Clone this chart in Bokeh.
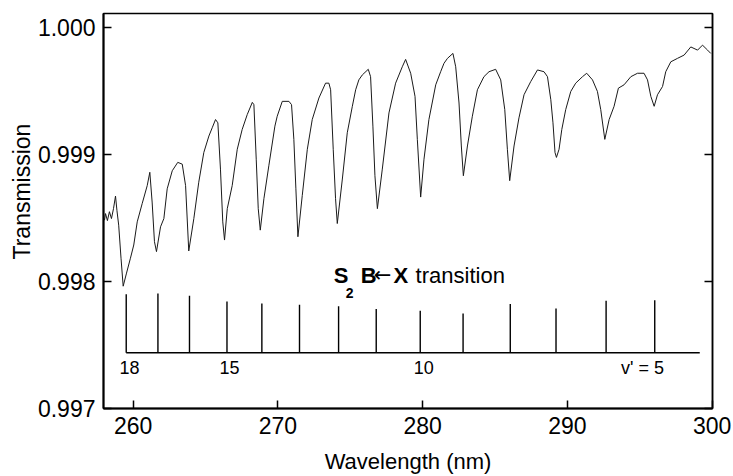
import math
from bokeh.plotting import figure
from bokeh.models import Range1d, LinearAxis, FixedTicker, Label, ColumnDataSource, Title
from bokeh.core.properties import value
from bokeh.embed import file_html
from bokeh.resources import INLINE

# ---------------- data ----------------
wavelength_nm = [
    258.02, 258.09, 258.22, 258.36, 258.50, 258.64, 258.78, 258.88, 259.00, 259.16,
    259.31, 259.54, 259.81, 260.04, 260.28, 260.62, 260.97, 261.15, 261.31, 261.47,
    261.61, 261.89, 262.12, 262.35, 262.70, 263.08, 263.39, 263.62, 263.84, 264.19,
    264.53, 264.88, 265.23, 265.46, 265.69, 265.85, 266.03, 266.19, 266.31, 266.50,
    266.84, 267.19, 267.53, 267.88, 268.23, 268.34, 268.50, 268.64, 268.78, 269.03,
    269.37, 269.79, 269.95, 270.30, 270.76, 270.94, 271.10, 271.24, 271.38, 271.68,
    272.03, 272.37, 272.83, 273.29, 273.52, 273.64, 273.82, 273.98, 274.10, 274.45,
    274.79, 275.14, 275.37, 275.59, 275.83, 276.24, 276.40, 276.56, 276.70, 276.87,
    277.21, 277.67, 278.13, 278.59, 278.82, 279.17, 279.47, 279.63, 279.86, 280.09,
    280.43, 280.90, 281.24, 281.47, 281.71, 282.09, 282.28, 282.51, 282.67, 282.81,
    283.09, 283.43, 283.78, 284.23, 284.58, 285.04, 285.39, 285.67, 285.85, 286.01,
    286.31, 286.65, 287.00, 287.46, 287.93, 288.38, 288.62, 288.85, 289.00, 289.14,
    289.24, 289.42, 289.61, 289.88, 290.23, 290.57, 291.04, 291.33, 291.73, 292.07,
    292.30, 292.58, 292.88, 293.22, 293.52, 293.91, 294.38, 294.84, 295.29, 295.53,
    295.76, 295.99, 296.22, 296.57, 296.79, 297.14, 297.60, 298.06, 298.52, 298.99,
    299.33, 299.68, 299.90,
]
transmission = [
    0.998481, 0.998533, 0.998478, 0.998548, 0.998494, 0.998572, 0.998671, 0.998556, 0.998442, 0.998182,
    0.997962, 0.998065, 0.998182, 0.998286, 0.998468, 0.998611, 0.998753, 0.998858, 0.998624, 0.998312,
    0.998234, 0.998429, 0.998494, 0.998728, 0.998870, 0.998936, 0.998922, 0.998753, 0.998239, 0.998494,
    0.998780, 0.999014, 0.999143, 0.999208, 0.999273, 0.999247, 0.998883, 0.998468, 0.998325, 0.998572,
    0.998753, 0.999039, 0.999195, 0.999312, 0.999408, 0.999390, 0.998961, 0.998572, 0.998403, 0.998650,
    0.998909, 0.999221, 0.999299, 0.999416, 0.999416, 0.999390, 0.999117, 0.998728, 0.998351, 0.998675,
    0.999039, 0.999273, 0.999442, 0.999559, 0.999559, 0.999507, 0.999039, 0.998650, 0.998455, 0.998805,
    0.999169, 0.999377, 0.999507, 0.999585, 0.999624, 0.999668, 0.999610, 0.999221, 0.998831, 0.998572,
    0.998883, 0.999325, 0.999559, 0.999688, 0.999746, 0.999637, 0.999455, 0.999117, 0.998663, 0.998961,
    0.999273, 0.999546, 0.999649, 0.999715, 0.999754, 0.999793, 0.999688, 0.999403, 0.999065, 0.998831,
    0.999065, 0.999299, 0.999507, 0.999610, 0.999649, 0.999668, 0.999585, 0.999351, 0.999039, 0.998792,
    0.999065, 0.999286, 0.999468, 0.999571, 0.999663, 0.999649, 0.999610, 0.999429, 0.999247, 0.999014,
    0.998975, 0.999039, 0.999195, 0.999351, 0.999494, 0.999559, 0.999610, 0.999637, 0.999585, 0.999494,
    0.999351, 0.999117, 0.999273, 0.999377, 0.999520, 0.999546, 0.999610, 0.999637, 0.999637, 0.999585,
    0.999455, 0.999377, 0.999468, 0.999533, 0.999649, 0.999727, 0.999754, 0.999780, 0.999844, 0.999819,
    0.999858, 0.999819, 0.999793,
]

# S2 B<-X band positions (v' = 18 ... 5)
band_v = [18, 17, 16, 15, 14, 13, 12, 11, 10, 9, 8, 7, 6, 5]
band_nm = [259.52, 261.71, 263.89, 266.48, 268.89, 271.49, 274.19,
           276.79, 279.83, 282.79, 286.05, 289.21, 292.67, 296.03]
band_top = [0.997899, 0.997904, 0.997886, 0.997842, 0.997826, 0.997816, 0.997805,
            0.997782, 0.997769, 0.997748, 0.997821, 0.997787, 0.997847, 0.997852]
band_label_text = ["18", "15", "10", "v' = 5"]
band_label_nm = [259.74, 266.66, 280.07, 295.18]

x_ticks = [260, 270, 280, 290, 300]
y_ticks = [0.997, 0.998, 0.999, 1.000]
y_tick_labels = ["0.997", "0.998", "0.999", "1.000"]

FONT = "Liberation Sans"
INK = "black"

# ---------------- figure ----------------
p = figure(width=733, height=476, output_backend="svg", toolbar_location=None,
           x_range=Range1d(257.95, 300.02), y_range=Range1d(0.997, 1.000107),
           min_border_left=103, min_border_right=21, min_border_top=13, min_border_bottom=64)
p.background_fill_color = "white"
p.border_fill_color = "white"
p.grid.visible = False
p.outline_line_color = INK
p.outline_line_width = 1.5

# spectrum
p.line(wavelength_nm, transmission, line_color="#1a1a1a", line_width=1)

# band marker lines
baseline_T = 0.997439
seg = ColumnDataSource(dict(x=band_nm, y0=[baseline_T] * len(band_nm), y1=band_top))
p.segment(x0="x", y0="y0", x1="x", y1="y1", source=seg, line_color=INK, line_width=1.4)
p.segment(x0=[band_nm[0]], y0=[baseline_T], x1=[299.14], y1=[baseline_T],
          line_color=INK, line_width=1.4)

p.text(x=band_label_nm, y=[0.997321] * len(band_label_nm), text=band_label_text,
       text_font=value(FONT), text_font_size="18px", text_align="center",
       text_baseline="middle", text_color=INK)

# title of the band system: S2 B<-X transition
base_T = 0.998050
p.add_layout(Label(x=273.85, y=base_T, text="S", text_font=FONT, text_font_size="22px",
                   text_font_style="bold", text_baseline="alphabetic", text_color=INK))
p.add_layout(Label(x=274.68, y=0.997909, text="2", text_font=FONT, text_font_size="14px",
                   text_font_style="bold", text_baseline="alphabetic", text_color=INK))
p.add_layout(Label(x=275.72, y=base_T, text="B", text_font=FONT, text_font_size="22px",
                   text_font_style="bold", text_baseline="alphabetic", text_color=INK))
p.add_layout(Label(x=276.62, y=base_T, text="\u2190", text_font="DejaVu Sans",
                   text_font_size="21px", text_baseline="alphabetic", text_color=INK))
p.add_layout(Label(x=277.99, y=base_T, text="X", text_font=FONT, text_font_size="22px",
                   text_font_style="bold", text_baseline="alphabetic", text_color=INK))
p.add_layout(Label(x=279.51, y=base_T, text="transition", text_font=FONT,
                   text_font_size="22px", text_baseline="alphabetic", text_color=INK))

# ---------------- axes ----------------
xa = p.xaxis[0]
xa.ticker = FixedTicker(ticks=x_ticks)
xa.axis_label = "Wavelength (nm)"
xa.axis_label_text_font = FONT
xa.axis_label_text_font_size = "22px"
xa.axis_label_text_font_style = "normal"
xa.axis_label_text_color = INK
xa.axis_label_standoff = 12
xa.major_label_text_font = FONT
xa.major_label_text_font_size = "23px"
xa.major_label_text_color = INK
xa.major_label_standoff = 8
xa.major_tick_in = 8
xa.major_tick_out = 0
xa.minor_tick_line_color = None
xa.axis_line_width = 2
xa.axis_line_color = INK
xa.major_tick_line_color = INK
xa.major_tick_line_width = 1.5

ya = p.yaxis[0]
ya.ticker = FixedTicker(ticks=y_ticks)
ya.major_label_overrides = {t: s for t, s in zip(y_ticks, y_tick_labels)}
ya.major_label_text_font = FONT
ya.major_label_text_font_size = "23px"
ya.major_label_text_color = INK
ya.major_label_standoff = 8
ya.major_tick_in = 8
ya.major_tick_out = 0
ya.minor_tick_line_color = None
ya.axis_line_width = 2
ya.axis_line_color = INK
ya.major_tick_line_color = INK
ya.major_tick_line_width = 1.5

ra = LinearAxis(ticker=FixedTicker(ticks=y_ticks),
                major_label_overrides={t: "" for t in y_ticks},
                major_tick_in=8, major_tick_out=0, minor_tick_line_color=None,
                axis_line_width=1.5, axis_line_color=INK, major_tick_line_color=INK,
                major_tick_line_width=1.5, major_label_standoff=0)
p.add_layout(ra, "right")

# y-axis title, set a little above the frame centre as in the reference
ytitle = Title(text="Transmission", align="left", offset=149, standoff=0,
               text_font=FONT, text_font_size="23px", text_font_style="normal",
               text_color=INK)
p.add_layout(ytitle, "left")

open("out.html", "w").write(file_html(p, INLINE))
